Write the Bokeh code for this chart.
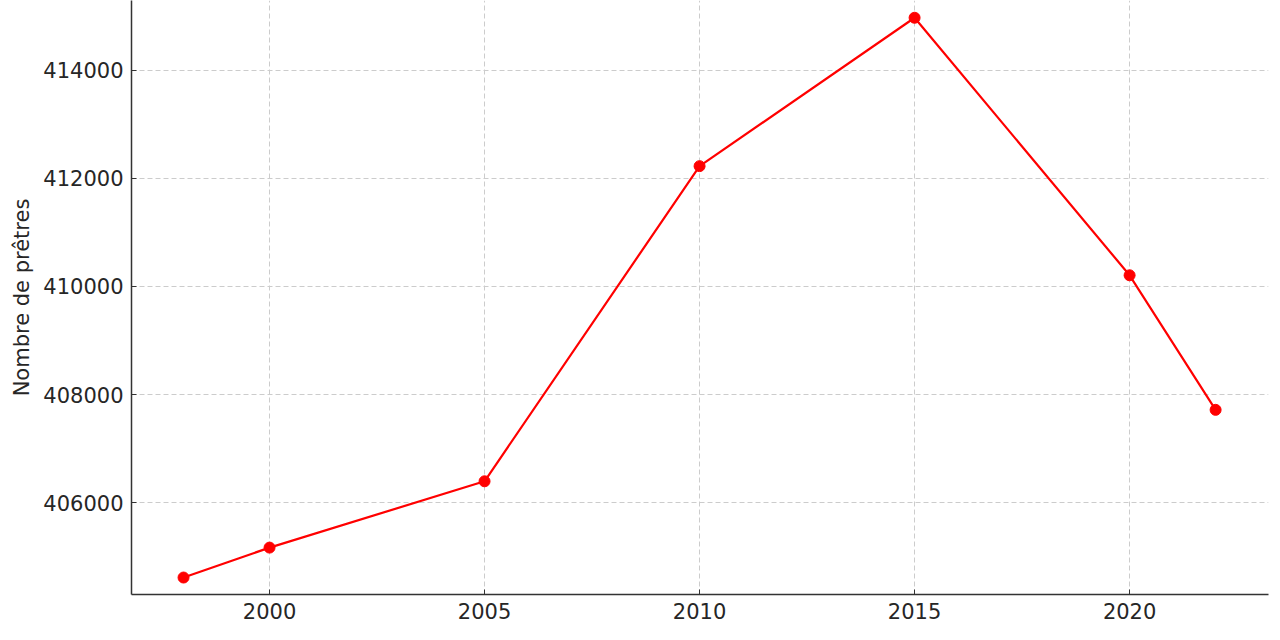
from bokeh.plotting import figure
from bokeh.embed import file_html
from bokeh.resources import INLINE
from bokeh.models import Range1d, FixedTicker, BasicTickFormatter

# données
annees = [1998, 2000, 2005, 2010, 2015, 2020, 2022]
pretres = [404614, 405168, 406395, 412227, 414973, 410207, 407717]
ticks_x = [2000, 2005, 2010, 2015, 2020]
ticks_y = [406000, 408000, 410000, 412000, 414000]

FONT = "DejaVu Sans"
TEXT = "#262626"

p = figure(
    width=1272, height=632,
    x_range=Range1d(1996.79, 2023.23),
    y_range=Range1d(404300, 415292),
    y_axis_label="Nombre de prêtres",
    output_backend="svg",
    toolbar_location=None,
    min_border_left=131, min_border_right=4, min_border_top=0,
    min_border_bottom=38,
)
p.outline_line_color = None
p.background_fill_color = "white"

# axes
p.xaxis.ticker = FixedTicker(ticks=ticks_x)
p.yaxis.ticker = FixedTicker(ticks=ticks_y)
p.yaxis.formatter = BasicTickFormatter(use_scientific=False)
for ax in (p.xaxis, p.yaxis):
    ax.axis_line_color = "#333333"
    ax.axis_line_width = 1.5
    ax.major_tick_line_color = "#333333"
    ax.major_tick_in = 5
    ax.major_tick_out = 0
    ax.minor_tick_line_color = None
    ax.major_label_text_font = FONT
    ax.major_label_text_font_size = "21px"
    ax.major_label_text_color = TEXT
    ax.major_label_standoff = 8
p.yaxis.axis_label_text_font = FONT
p.yaxis.axis_label_text_font_size = "21px"
p.yaxis.axis_label_text_font_style = "normal"
p.yaxis.axis_label_text_color = TEXT
p.yaxis.axis_label_standoff = 6

# grille
p.grid.grid_line_color = "#cccccc"
p.grid.grid_line_dash = "5 3"
p.grid.grid_line_width = 1

# série
p.line(annees, pretres, line_color="red", line_width=2.2)
p.scatter(annees, pretres, size=11, fill_color="red", line_color="red")

open("out.html", "w").write(file_html(p, INLINE))
